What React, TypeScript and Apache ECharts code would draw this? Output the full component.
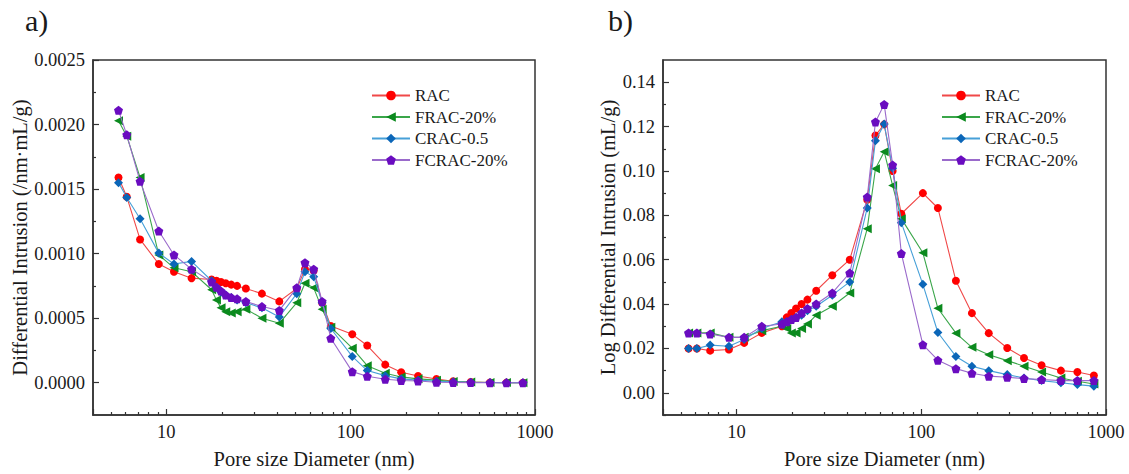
import React, { useEffect, useRef } from "react";
import * as echarts from "echarts";

// ---- data ----
const poreSizes = [5.5, 6.1, 7.2, 9.1, 11, 13.7, 17.6, 18.7, 19.8, 21, 22.5, 24.2, 27, 33, 41, 51, 56.5, 63, 70, 78, 102, 123, 154, 188, 232, 292, 360, 448, 570, 700, 860];

const seriesNames = ["RAC", "FRAC-20%", "CRAC-0.5", "FCRAC-20%"];

// a) Differential Intrusion (/nm·mL/g)
const racDI = [0.00159, 0.00144, 0.00111, 0.00092, 0.00086, 0.00081, 0.0008, 0.00079, 0.00078, 0.00077, 0.00076, 0.00075, 0.00073, 0.00069, 0.00063, 0.00073, 0.00088, 0.00087, 0.00062, 0.00044, 0.000375, 0.000288, 0.00014, 0.000081, 0.000052, 0.000029, 0.000012, 0.000005, 0.000002, 0.000001, 0.0];
const fracDI = [0.00203, 0.00191, 0.00159, 0.00099, 0.00089, 0.00086, 0.00072, 0.00064, 0.00058, 0.00055, 0.00054, 0.00055, 0.00057, 0.0005, 0.00046, 0.00062, 0.00077, 0.000735, 0.00057, 0.00043, 0.000268, 0.000132, 0.000073, 0.000045, 0.00003, 0.00002, 0.00001, 0.000005, 0.000002, 0.000001, 0.0];
const cracDI = [0.00155, 0.001435, 0.00127, 0.001004, 0.00092, 0.00094, 0.00079, 0.00074, 0.0007, 0.00068, 0.00066, 0.00064, 0.00062, 0.00058, 0.00051, 0.00069, 0.00086, 0.00082, 0.00062, 0.00042, 0.000204, 0.000094, 0.000055, 0.00003, 0.00002, 0.000012, 0.000008, 0.000004, 0.000002, 0.000001, 0.0];
const fcracDI = [0.00211, 0.00192, 0.00156, 0.001175, 0.00099, 0.00088, 0.00078, 0.00074, 0.00071, 0.00068, 0.00066, 0.00065, 0.00063, 0.00059, 0.00056, 0.000735, 0.00093, 0.00088, 0.00063, 0.000345, 0.000086, 0.00005, 0.000027, 0.000017, 0.000013, 0.000004, 0.000002, 0.000001, 0.0, 0.0, 0.0];

// b) Log Differential Intrusion (mL/g)
const racLDI = [0.02, 0.02, 0.019, 0.0195, 0.0225, 0.027, 0.03, 0.034, 0.036, 0.038, 0.04, 0.042, 0.046, 0.053, 0.06, 0.087, 0.116, 0.121, 0.1, 0.0807, 0.09, 0.0833, 0.0505, 0.0359, 0.0269, 0.0202, 0.0157, 0.0124, 0.01, 0.0094, 0.0078];
const fracLDI = [0.027, 0.027, 0.027, 0.025, 0.025, 0.028, 0.03, 0.029, 0.027, 0.027, 0.029, 0.031, 0.035, 0.039, 0.045, 0.074, 0.101, 0.1087, 0.0934, 0.0785, 0.0631, 0.0381, 0.0269, 0.0205, 0.0172, 0.0145, 0.012, 0.0094, 0.0067, 0.0052, 0.004];
const cracLDI = [0.02, 0.02, 0.0215, 0.021, 0.024, 0.029, 0.032, 0.032, 0.033, 0.034, 0.035, 0.037, 0.039, 0.044, 0.05, 0.0833, 0.1136, 0.1211, 0.1012, 0.0767, 0.0489, 0.0272, 0.0164, 0.012, 0.01, 0.0082, 0.0067, 0.0055, 0.0045, 0.0037, 0.003];
const fcracLDI = [0.027, 0.027, 0.0265, 0.025, 0.025, 0.03, 0.031, 0.032, 0.033, 0.034, 0.036, 0.038, 0.04, 0.045, 0.054, 0.0882, 0.1221, 0.13, 0.1027, 0.0628, 0.0217, 0.0147, 0.0109, 0.0088, 0.0075, 0.007, 0.0064, 0.006, 0.0055, 0.0055, 0.0055];

// axis ticks
const xMinorTicks = [5, 6, 7, 8, 9, 20, 30, 40, 50, 60, 70, 80, 90, 200, 300, 400, 500, 600, 700, 800, 900];
const leftMajorTicks = [0, 0.0005, 0.001, 0.0015, 0.002, 0.0025];
const leftMinorTicks = [0.00025, 0.00075, 0.00125, 0.00175, 0.00225];
const rightMajorTicks = [0, 0.02, 0.04, 0.06, 0.08, 0.1, 0.12, 0.14];
const rightMinorTicks = [-0.01, 0.01, 0.03, 0.05, 0.07, 0.09, 0.11, 0.13];

const FONT = "'Liberation Serif', 'Times New Roman', serif";
const TEXT = "#1a1a1a";
const AXIS = "#333";
const TICK_FS = 18.5;
const NAME_FS = 20.5;

const styles = [
  { symbol: "circle", size: 8, rotate: 0, marker: "#ff0000", line: "#f04848" },
  { symbol: "triangle", size: 9, rotate: 90, marker: "#0b8a1e", line: "#3aa64a" },
  { symbol: "diamond", size: 9, rotate: 0, marker: "#0b66b8", line: "#47a0d8" },
  { symbol: "path://M0,-10L9.51,-3.09L5.88,8.09L-5.88,8.09L-9.51,-3.09Z", size: 9, rotate: 0, marker: "#6a0cc0", line: "#9a6acb" },
];

const leftData = [racDI, fracDI, cracDI, fcracDI];
const rightData = [racLDI, fracLDI, cracLDI, fcracLDI];

function logXAxis(gridIndex: number) {
  return {
    type: "log",
    logBase: 10,
    gridIndex,
    min: 4,
    max: 1000,
    name: "Pore size Diameter (nm)",
    nameLocation: "middle",
    nameGap: 33,
    nameTextStyle: { fontSize: NAME_FS, color: TEXT, fontFamily: FONT },
    axisLine: { onZero: false, lineStyle: { color: AXIS, width: 1.5 } },
    axisTick: { inside: true, length: 6, lineStyle: { color: AXIS, width: 1.2 } },
    axisLabel: {
      fontSize: TICK_FS,
      color: TEXT,
      fontFamily: FONT,
      margin: 7,
      formatter: (v: number) => {
        const l = Math.log10(v);
        return Math.abs(l - Math.round(l)) < 1e-6 ? String(Math.round(v)) : "";
      },
    },
    splitLine: { show: false },
  };
}

function minorXAxis(gridIndex: number) {
  return {
    type: "value",
    gridIndex,
    position: "bottom",
    min: Math.log10(4),
    max: 3,
    axisLine: { show: false, onZero: false },
    axisLabel: { show: false },
    axisTick: {
      inside: true,
      length: 3,
      lineStyle: { color: AXIS, width: 1.2 },
      customValues: xMinorTicks.map((v) => Math.log10(v)),
    },
    splitLine: { show: false },
  };
}

function mainYAxis(gridIndex: number, name: string, min: number, max: number, major: number[], digits: number, nameGap: number) {
  return {
    type: "value",
    gridIndex,
    position: "left",
    min,
    max,
    name,
    nameLocation: "middle",
    nameGap,
    nameTextStyle: { fontSize: NAME_FS, color: TEXT, fontFamily: FONT },
    axisLine: { show: true, onZero: false, lineStyle: { color: AXIS, width: 1.5 } },
    axisTick: { show: true, inside: true, length: 6, lineStyle: { color: AXIS, width: 1.2 }, customValues: major },
    axisLabel: {
      fontSize: TICK_FS,
      color: TEXT,
      fontFamily: FONT,
      margin: 8,
      customValues: major,
      formatter: (v: number) => v.toFixed(digits),
    },
    splitLine: { show: false },
  };
}

function minorYAxis(gridIndex: number, min: number, max: number, minor: number[]) {
  return {
    type: "value",
    gridIndex,
    position: "left",
    min,
    max,
    axisLine: { show: false, onZero: false },
    axisLabel: { show: false },
    axisTick: { show: true, inside: true, length: 3, lineStyle: { color: AXIS, width: 1.2 }, customValues: minor },
    splitLine: { show: false },
  };
}

function makeSeries(data: number[][], xAxisIndex: number, yAxisIndex: number) {
  return data.map((arr, k) => ({
    type: "line",
    name: seriesNames[k],
    xAxisIndex,
    yAxisIndex,
    data: poreSizes.map((x, i) => [x, arr[i]]),
    symbol: styles[k].symbol,
    symbolSize: styles[k].size,
    symbolRotate: styles[k].rotate,
    showAllSymbol: true,
    itemStyle: { color: styles[k].marker },
    lineStyle: { color: styles[k].line, width: 1.1 },
    emphasis: { disabled: true },
    z: 2 + k,
  }));
}

function legend(left: number) {
  return {
    orient: "vertical",
    left,
    top: 82,
    itemWidth: 38,
    itemHeight: 12,
    itemGap: 4.5,
    selectedMode: false,
    textStyle: { fontSize: 17, color: TEXT, fontFamily: FONT },
    data: seriesNames,
  };
}

export default function App() {
  const ref = useRef<HTMLDivElement>(null);
  useEffect(() => {
    if (!ref.current) return;
    const chart = echarts.init(ref.current, undefined, { renderer: "svg" });
    chart.setOption({
      animation: false,
      backgroundColor: "#ffffff",
      title: [
        { text: "a)", left: 20, top: 0, textStyle: { fontSize: 30, fontWeight: "normal", fontFamily: FONT, color: TEXT } },
        { text: "b)", left: 603, top: 0, textStyle: { fontSize: 30, fontWeight: "normal", fontFamily: FONT, color: TEXT } },
      ],
      legend: [legend(366), legend(936)],
      grid: [
        { left: 93, top: 60, width: 442, height: 358, show: true, borderColor: AXIS, borderWidth: 1.5, backgroundColor: "transparent" },
        { left: 663, top: 60, width: 443, height: 358, show: true, borderColor: AXIS, borderWidth: 1.5, backgroundColor: "transparent" },
      ],
      xAxis: [logXAxis(0), minorXAxis(0), logXAxis(1), minorXAxis(1)],
      yAxis: [
        mainYAxis(0, "Differential Intrusion (/nm·mL/g)", -0.00025, 0.0025, leftMajorTicks, 4, 63),
        minorYAxis(0, -0.00025, 0.0025, leftMinorTicks),
        mainYAxis(1, "Log Differential Intrusion (mL/g)", -0.01, 0.15, rightMajorTicks, 2, 45),
        minorYAxis(1, -0.01, 0.15, rightMinorTicks),
      ],
      series: [...makeSeries(leftData, 0, 0), ...makeSeries(rightData, 2, 2)],
    });
    return () => chart.dispose();
  }, []);
  return <div ref={ref} style={{ position: "fixed", left: 0, top: 0, width: 1129, height: 474 }} />;
}
